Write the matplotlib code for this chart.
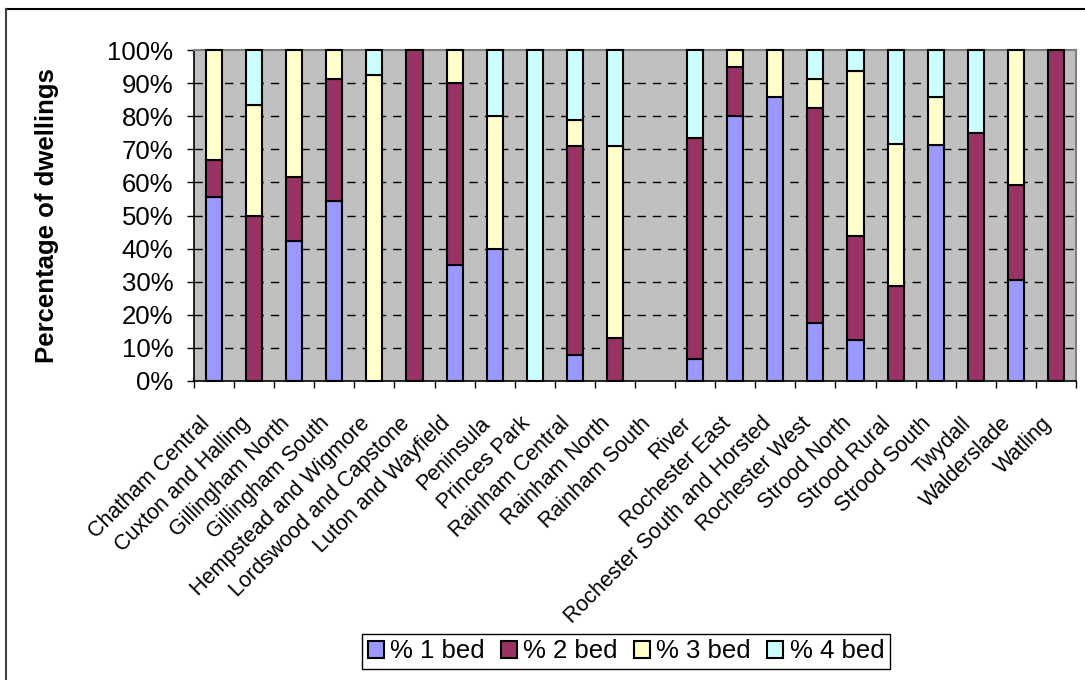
import numpy as np
import matplotlib
matplotlib.use("Agg")
import matplotlib.pyplot as plt
from matplotlib.lines import Line2D
from matplotlib.transforms import ScaledTranslation

plt.rcParams['font.family'] = ['Liberation Sans', 'DejaVu Sans']

wards = ["Chatham Central", "Cuxton and Halling", "Gillingham North", "Gillingham South",
         "Hempstead and Wigmore", "Lordswood and Capstone", "Luton and Wayfield", "Peninsula",
         "Princes Park", "Rainham Central", "Rainham North", "Rainham South", "River",
         "Rochester East", "Rochester South and Horsted", "Rochester West", "Strood North",
         "Strood Rural", "Strood South", "Twydall", "Walderslade", "Watling"]

bed1 = [55.6, 0, 42.3, 54.3, 0, 0, 35.0, 40.0, 0, 7.9, 0, 0, 6.7, 80.0, 85.7, 17.4, 12.5, 0, 71.4, 0, 30.6, 0]
bed2 = [11.1, 50.0, 19.2, 37.0, 0, 100, 55.0, 0, 0, 63.2, 12.9, 0, 66.7, 15.0, 0, 65.2, 31.3, 28.6, 0, 75.0, 28.6, 100]
bed3 = [33.3, 33.3, 38.5, 8.7, 92.3, 0, 10.0, 40.0, 0, 7.9, 58.1, 0, 0, 5.0, 14.3, 8.7, 50.0, 42.9, 14.3, 0, 40.8, 0]
bed4 = [0, 16.7, 0, 0, 7.7, 0, 0, 20.0, 100, 21.0, 29.0, 0, 26.7, 0, 0, 8.7, 6.2, 28.6, 14.3, 25.0, 0, 0]

series_names = ["% 1 bed", "% 2 bed", "% 3 bed", "% 4 bed"]
colors = ["#9999FF", "#993366", "#FFFFCC", "#CCFFFF"]
yticks = [0, 10, 20, 30, 40, 50, 60, 70, 80, 90, 100]

W, H = 1085, 680
fig = plt.figure(figsize=(W / 100, H / 100), dpi=100)
fig.patch.set_facecolor("white")
ax = fig.add_axes([194 / W, 1 - 381 / H, (1076 - 194) / W, (381 - 50) / H])
ax.set_facecolor("#C0C0C0")

x = np.arange(len(wards))
bottom = np.zeros(len(wards))
handles = []
for vals, name, col in zip([bed1, bed2, bed3, bed4], series_names, colors):
    v = np.array(vals, dtype=float)
    m = v > 0
    bars = ax.bar(x[m], v[m], bottom=bottom[m], width=0.4, color=col,
                  edgecolor="black", linewidth=1.5, label=name, zorder=3, clip_on=False)
    handles.append(bars)
    bottom += v

ax.set_xlim(-0.5, len(wards) - 0.5)
ax.set_ylim(0, 100)
ax.set_yticks(yticks)
ax.set_yticklabels([f"{t}%" for t in yticks], fontsize=18.5)
ax.set_xticks(x)
ax.set_xticklabels(wards, rotation=45, ha="right", rotation_mode="anchor", fontsize=15.5)
ax.set_xticks(np.arange(len(wards) + 1) - 0.5, minor=True)
ax.tick_params(axis="x", which="major", length=0, pad=23)
ax.tick_params(axis="x", which="minor", length=5, width=1, direction="out")
ax.tick_params(axis="y", length=5, width=1, direction="out", pad=10)

offset = ScaledTranslation(-15 / 100, 0, fig.dpi_scale_trans)
for lab in ax.get_xticklabels():
    lab.set_transform(lab.get_transform() + offset)

for t in yticks[1:-1]:
    ax.axhline(t, color="black", linewidth=1, linestyle=(0, (6, 5)), zorder=1)

for s in ["left", "bottom"]:
    ax.spines[s].set_color("black")
    ax.spines[s].set_linewidth(1.2)
for s in ["top", "right"]:
    ax.spines[s].set_color("#808080")
    ax.spines[s].set_linewidth(1.5)

fig.text(47 / W, 1 - 216 / H, "Percentage of dwellings", rotation=90, ha="center",
         va="center", fontsize=18.5, fontweight="bold")

leg = fig.legend(handles=handles, labels=series_names, loc="center",
                 bbox_to_anchor=(626 / W, 1 - 651.5 / H), ncol=4, fontsize=18.5,
                 frameon=True, fancybox=False, edgecolor="black", framealpha=1,
                 handlelength=0.62, handleheight=0.62, handletextpad=0.25,
                 columnspacing=0.63, borderpad=0.22, borderaxespad=0)
leg.get_frame().set_linewidth(1)

fig.add_artist(Line2D([6 / W, 1.0], [1 - 9 / H, 1 - 9 / H], color="black", linewidth=1.5))
fig.add_artist(Line2D([6 / W, 6 / W], [0, 1 - 9 / H], color="#404040", linewidth=1.5))

fig.savefig("out.png", dpi=100)
